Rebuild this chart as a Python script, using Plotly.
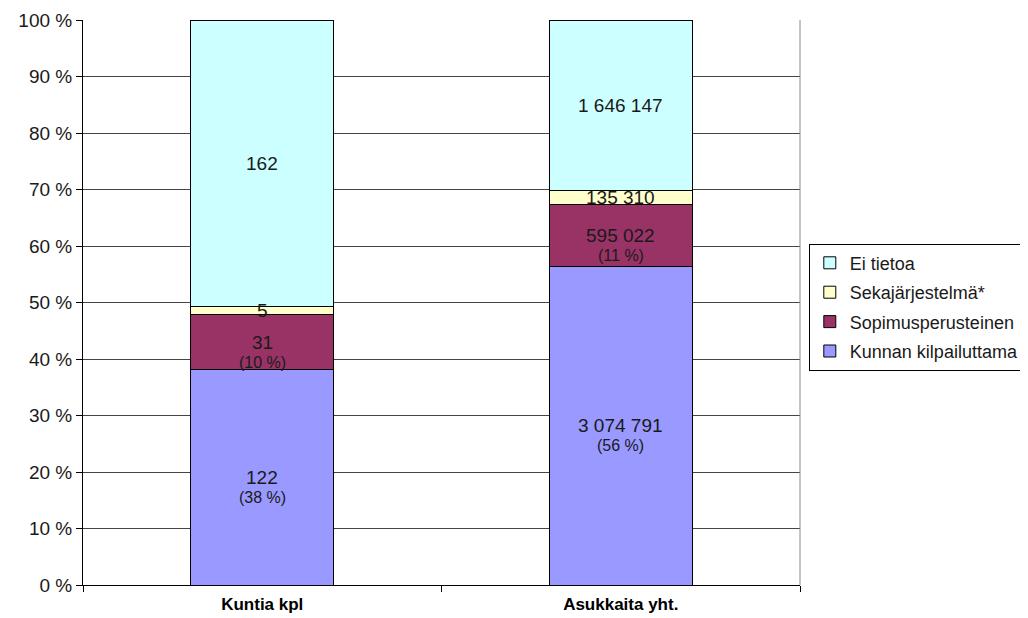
import plotly.graph_objects as go

categories = ['Kuntia kpl', 'Asukkaita yht.']
series_names = ['Kunnan kilpailuttama', 'Sopimusperusteinen', 'Sekajärjestelmä*', 'Ei tietoa']
kunnan = [122, 3074791]
sopimus = [31, 595022]
seka = [5, 135310]
ei_tietoa = [162, 1646147]
show_pct = [True, True, False, False]  # percentage shown under the value

colors = ['#9999FF', '#993366', '#FFFFCC', '#CCFFFF']
series = [kunnan, sopimus, seka, ei_tietoa]
totals = [sum(s[i] for s in series) for i in range(len(categories))]


def fmt(n):
    return f"{n:,}".replace(",", " ")


fig = go.Figure()
for k, (name, vals, col) in enumerate(zip(series_names, series, colors)):
    fig.add_trace(go.Bar(
        x=categories,
        y=vals,
        name=name,
        legendgroup=name,
        legendrank=1000 - k,  # top of the stack first in legend
        marker=dict(color=col, line=dict(color='#000000', width=1)),
        hoverinfo='skip'
    ))

# value labels centred in each segment
annotations = []
for i, cat in enumerate(categories):
    base = 0.0
    for vals, pct in zip(series, show_pct):
        share = vals[i] / totals[i] * 100
        mid = base + share / 2
        annotations.append(dict(
            x=cat, y=mid, xref='x', yref='y', text=fmt(vals[i]),
            showarrow=False, font=dict(size=19, color='#1a1a1a')
        ))
        if pct:
            annotations.append(dict(
                x=cat, y=mid, xref='x', yref='y', yshift=-20,
                text=f"({round(share)} %)",
                showarrow=False, font=dict(size=16, color='#1a1a1a')
            ))
        base += share

fig.update_layout(
    barmode='stack',
    barnorm='percent',
    bargap=0.6,
    width=1028,
    height=618,
    margin=dict(l=75, r=236, t=12, b=41),
    paper_bgcolor='white',
    plot_bgcolor='white',
    font=dict(family='Liberation Sans, Arial, sans-serif', color='#1a1a1a'),
    annotations=annotations,
    showlegend=True,
    legend=dict(
        xref='container', yref='container',
        x=0.779, y=0.516, xanchor='left', yanchor='middle',
        traceorder='grouped',
        tracegroupgap=3,
        bordercolor='#000000', borderwidth=1,
        font=dict(size=18, color='#1a1a1a'),
        itemwidth=30
    ),
    shapes=[dict(type='line', xref='paper', yref='paper', x0=1, x1=1, y0=0, y1=1,
                 line=dict(color='#888888', width=1))]
)

fig.update_yaxes(
    automargin=False,
    range=[0, 100],
    dtick=10,
    ticksuffix=' %',
    showgrid=True,
    gridcolor='#444444',
    gridwidth=1,
    showline=True,
    linecolor='#000000',
    linewidth=1,
    ticks='outside',
    ticklen=6,
    tickcolor='#000000',
    tickfont=dict(size=19, color='#1a1a1a'),
    zeroline=False
)

fig.update_xaxes(
    automargin=False,
    showline=True,
    linecolor='#000000',
    linewidth=1,
    ticks='outside',
    tickson='boundaries',
    ticklen=6,
    ticklabelstandoff=4,
    tickcolor='#000000',
    tickfont=dict(size=17, color='#000000', family='Liberation Sans, Arial, sans-serif', weight='bold'),
    showgrid=False
)

fig.write_html("out.html")
